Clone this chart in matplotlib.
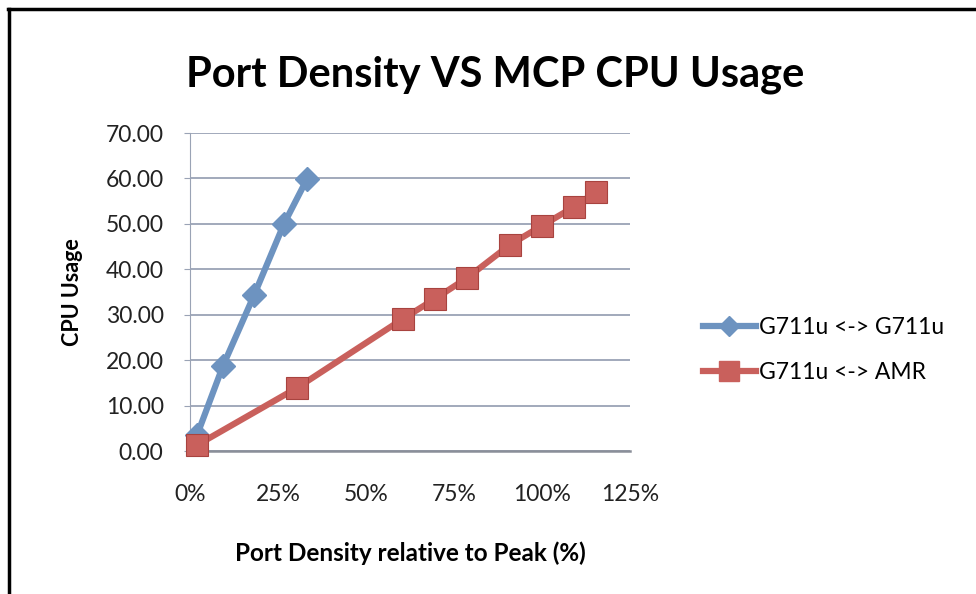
import numpy as np
import matplotlib.pyplot as plt
import matplotlib
from matplotlib.ticker import FuncFormatter, MultipleLocator
from matplotlib.lines import Line2D

matplotlib.rcParams['font.family'] = ['Lato', 'DejaVu Sans']

# data (x in % of peak, y in CPU usage)
g711_x = [2.0, 9.4, 18.2, 26.7, 33.2]
g711_y = [3.5, 18.8, 34.3, 50.0, 59.8]
amr_x = [2.0, 30.4, 60.5, 69.6, 78.7, 90.9, 100.0, 109.0, 115.3]
amr_y = [1.3, 13.9, 29.1, 33.5, 38.1, 45.4, 49.6, 53.7, 57.0]
series_names = ['G711u <-> G711u', 'G711u <-> AMR']

blue_c = '#6D93C0'
red_c = '#C9605C'
grid_col = '#9AA3B5'

fig = plt.figure(figsize=(9.76, 5.94), dpi=100)
ax = fig.add_axes([190/976, 1-451/594, 440/976, 318/594])

ax.plot(g711_x, g711_y, color=blue_c, lw=4.5, marker='D', ms=12,
        mfc=blue_c, mec=blue_c, zorder=3)
ax.plot(amr_x, amr_y, color=red_c, lw=4.5, marker='s', ms=16,
        mfc=red_c, mec='#A8433F', mew=0.8, zorder=4)

ax.set_xlim(0, 125)
ax.set_ylim(0, 70)
ax.xaxis.set_major_locator(MultipleLocator(25))
ax.yaxis.set_major_locator(MultipleLocator(10))
ax.xaxis.set_major_formatter(FuncFormatter(lambda v, p: '%d%%' % v))
ax.yaxis.set_major_formatter(FuncFormatter(lambda v, p: '%.2f' % v))
ax.grid(axis='y', color=grid_col, lw=1.3)
ax.set_axisbelow(True)
for s in ['top', 'right']:
    ax.spines[s].set_visible(False)
ax.spines['left'].set_color(grid_col)
ax.spines['bottom'].set_color('#8A8F99')
ax.spines['bottom'].set_linewidth(1.8)
ax.tick_params(axis='y', length=4, color=grid_col, labelsize=16.5, pad=15, labelcolor='#222222')
ax.tick_params(axis='x', length=0, labelsize=16.5, pad=24, labelcolor='#222222')
for ln in ax.lines:
    ln.set_clip_on(False)

ax.set_xlabel('Port Density relative to Peak (%)', fontsize=17.5, fontweight='bold', labelpad=26)
ax.set_ylabel('CPU Usage', fontsize=15.5, fontweight='bold', labelpad=16)
fig.text(0.507, 0.875, 'Port Density VS MCP CPU Usage', fontsize=30, fontweight='bold',
         ha='center', va='center')

handles = [Line2D([], [], color=blue_c, lw=4.5, marker='D', ms=10),
           Line2D([], [], color=red_c, lw=4.5, marker='s', ms=14)]
fig.legend(handles, series_names, loc='center left', bbox_to_anchor=(0.699, 0.411),
           frameon=False, fontsize=16.5, handlelength=2.3, handletextpad=0.15,
           labelspacing=1.05)

# frame along top and left edge
fig.add_artist(Line2D([8/976, 1], [1-9/594, 1-9/594], color='black', lw=2.5))
fig.add_artist(Line2D([9/976, 9/976], [0, 1-9/594], color='black', lw=2.5))

plt.savefig('out.png', dpi=100)
